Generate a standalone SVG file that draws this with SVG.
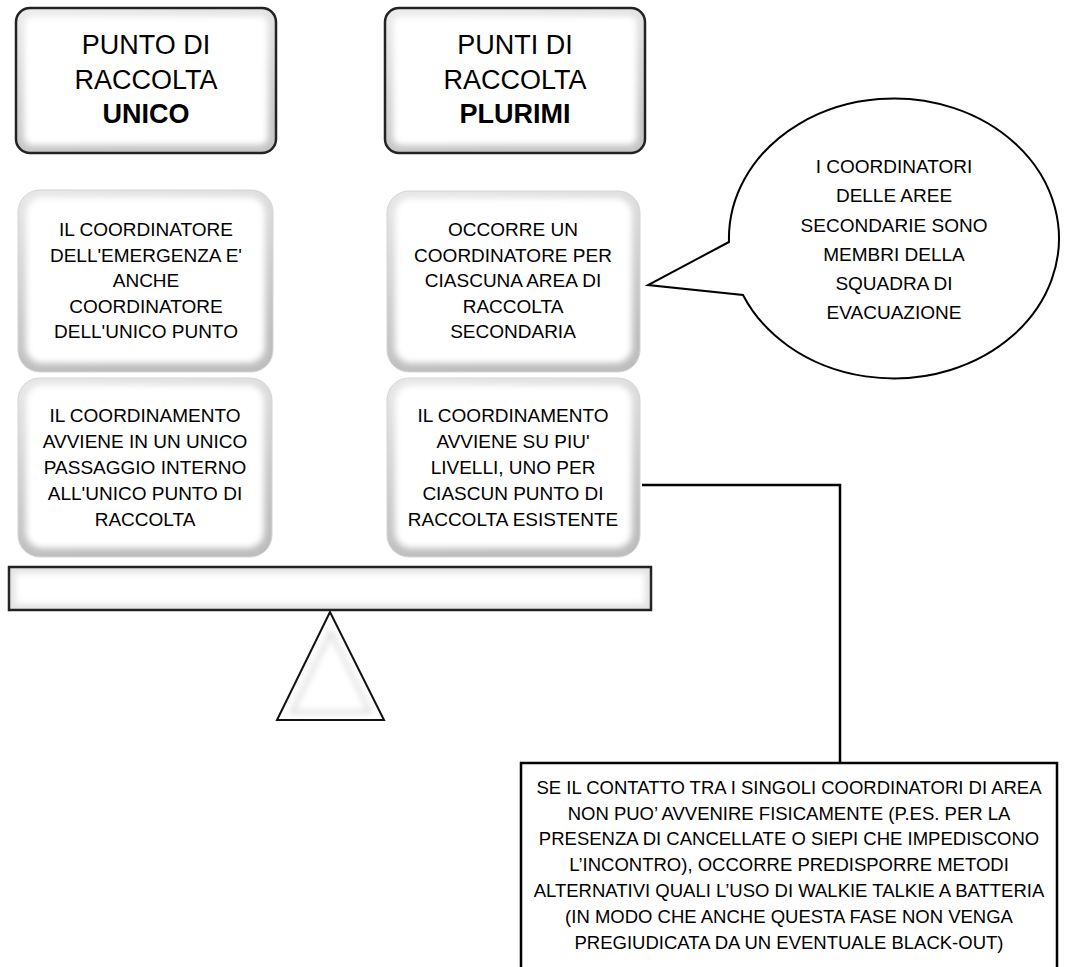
<svg xmlns="http://www.w3.org/2000/svg" width="1071" height="967" viewBox="0 0 1071 967">
<style>
.t{font-family:"Liberation Sans",Arial,sans-serif;fill:#000;text-anchor:middle}
.h{font-size:27px}
.b{font-weight:bold}
.m{font-size:19px}
.s{font-size:18.5px}
.u{font-size:19px}
.hard{stroke:#222;stroke-width:2.5;fill:url(#hardEdge)}
.soft{fill:url(#softEdge);stroke:#d4d4d4;stroke-width:1}
.inner{fill:#fff;filter:url(#blur)}
.line{fill:none;stroke:#000;stroke-width:2.5}
</style>
<defs>
<linearGradient id="hardEdge" x1="0" y1="0" x2="0.25" y2="1">
<stop offset="0" stop-color="#ececec"/>
<stop offset="1" stop-color="#c4c4c4"/>
</linearGradient>
<linearGradient id="softEdge" x1="0" y1="0" x2="0.25" y2="1">
<stop offset="0" stop-color="#e8e8e8"/>
<stop offset="1" stop-color="#bdbdbd"/>
</linearGradient>
<filter id="blur" x="-10%" y="-10%" width="120%" height="120%">
<feGaussianBlur stdDeviation="3"/>
</filter>
</defs>
<rect width="1071" height="967" fill="#fff"/>

<g id="connectors">
<polyline class="line" points="642,485 840,485 840,763"/>
</g>

<g id="top-left">
<rect class="hard" x="16" y="8" width="260" height="145" rx="14"/>
<rect class="inner" x="24" y="16" width="244" height="129" rx="8"/>
<text class="t h" x="146" y="54">PUNTO DI</text>
<text class="t h" x="146" y="89">RACCOLTA</text>
<text class="t h b" x="146" y="123">UNICO</text>
</g>

<g id="top-right">
<rect class="hard" x="385" y="8" width="260" height="145" rx="14"/>
<rect class="inner" x="393" y="16" width="244" height="129" rx="8"/>
<text class="t h" x="515" y="54">PUNTI DI</text>
<text class="t h" x="515" y="89">RACCOLTA</text>
<text class="t h b" x="515" y="123">PLURIMI</text>
</g>

<g id="mid-left">
<rect class="soft" x="18" y="190" width="255" height="182" rx="22"/>
<rect class="inner" x="26" y="197" width="239" height="166" rx="16"/>
<text class="t m" x="146" y="236">IL COORDINATORE</text>
<text class="t m" x="146" y="262">DELL'EMERGENZA E'</text>
<text class="t m" x="146" y="287">ANCHE</text>
<text class="t m" x="146" y="313">COORDINATORE</text>
<text class="t m" x="146" y="338">DELL'UNICO PUNTO</text>
</g>

<g id="mid-right">
<rect class="soft" x="387" y="191" width="253" height="181" rx="22"/>
<rect class="inner" x="395" y="198" width="237" height="165" rx="16"/>
<text class="t m" x="513" y="236">OCCORRE UN</text>
<text class="t m" x="513" y="262">COORDINATORE PER</text>
<text class="t m" x="513" y="287">CIASCUNA AREA DI</text>
<text class="t m" x="513" y="313">RACCOLTA</text>
<text class="t m" x="513" y="338">SECONDARIA</text>
</g>

<g id="bottom-left">
<rect class="soft" x="18" y="378" width="254" height="179" rx="22"/>
<rect class="inner" x="26" y="385" width="238" height="163" rx="16"/>
<text class="t m" x="145" y="422">IL COORDINAMENTO</text>
<text class="t m" x="145" y="448">AVVIENE IN UN UNICO</text>
<text class="t m" x="145" y="474">PASSAGGIO INTERNO</text>
<text class="t m" x="145" y="500">ALL'UNICO PUNTO DI</text>
<text class="t m" x="145" y="526">RACCOLTA</text>
</g>

<g id="bottom-right">
<rect class="soft" x="387" y="378" width="253" height="179" rx="22"/>
<rect class="inner" x="395" y="385" width="237" height="163" rx="16"/>
<text class="t m" x="513" y="422">IL COORDINAMENTO</text>
<text class="t m" x="513" y="448">AVVIENE SU PIU'</text>
<text class="t m" x="513" y="474">LIVELLI, UNO PER</text>
<text class="t m" x="513" y="500">CIASCUN PUNTO DI</text>
<text class="t m" x="513" y="526">RACCOLTA ESISTENTE</text>
</g>

<g id="beam">
<rect x="9" y="567" width="642" height="43" fill="#e2e2e2" stroke="#222" stroke-width="2.5"/>
<rect class="inner" x="15" y="573" width="630" height="31"/>
</g>

<g id="fulcrum">
<polygon points="330,612 277,720 384,720" fill="#fff" stroke="#111" stroke-width="2"/>
<polygon points="331,632 292,712 370,712" fill="none" stroke="#d6d6d6" stroke-width="3" filter="url(#blur)"/>
</g>

<g id="callout">
<path d="M729,242 L648,285 L743,295 A165,140 0 1 0 729,242 Z" fill="#fff" stroke="#000" stroke-width="2"/>
<text class="t u" x="894" y="173">I COORDINATORI</text>
<text class="t u" x="894" y="202">DELLE AREE</text>
<text class="t u" x="894" y="232">SECONDARIE SONO</text>
<text class="t u" x="894" y="261">MEMBRI DELLA</text>
<text class="t u" x="894" y="290">SQUADRA DI</text>
<text class="t u" x="894" y="319">EVACUAZIONE</text>
</g>

<g id="note">
<rect x="521" y="763" width="536" height="210" fill="#fff" stroke="#000" stroke-width="2.5"/>
<text class="t s" x="789" y="794">SE IL CONTATTO TRA I SINGOLI COORDINATORI DI AREA</text>
<text class="t s" x="789" y="820">NON PUO’ AVVENIRE FISICAMENTE (P.ES. PER LA</text>
<text class="t s" x="789" y="845">PRESENZA DI CANCELLATE O SIEPI CHE IMPEDISCONO</text>
<text class="t s" x="789" y="871">L’INCONTRO), OCCORRE PREDISPORRE METODI</text>
<text class="t s" x="789" y="897">ALTERNATIVI QUALI L’USO DI WALKIE TALKIE A BATTERIA</text>
<text class="t s" x="789" y="923">(IN MODO CHE ANCHE QUESTA FASE NON VENGA</text>
<text class="t s" x="789" y="949">PREGIUDICATA DA UN EVENTUALE BLACK-OUT)</text>
</g>
</svg>
